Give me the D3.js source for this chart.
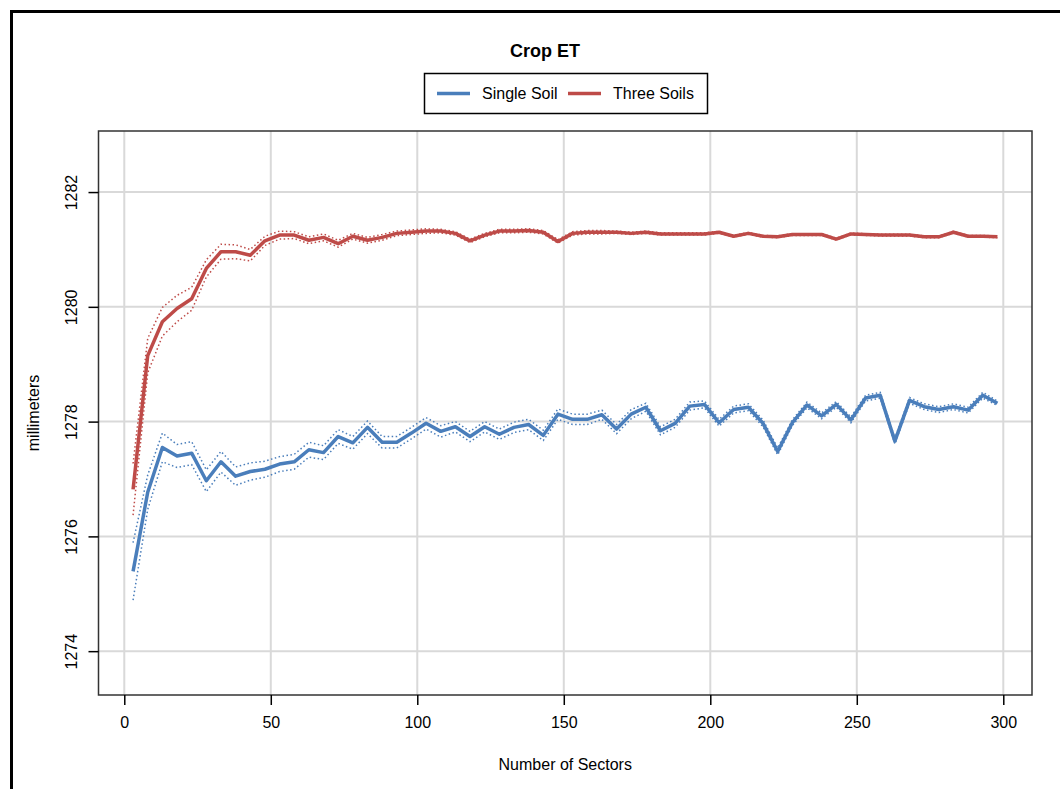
<!DOCTYPE html>
<html>
<head>
<meta charset="utf-8">
<script src="https://cdn.jsdelivr.net/npm/d3@7"></script>
<style>
  body { margin: 0; background: #fff; }
  svg { display: block; }
  text { font-family: "Liberation Sans", Arial, Helvetica, sans-serif; fill: #000; }
</style>
</head>
<body>
<svg id="chart" width="1060" height="789"></svg>
<script>
// Number of sectors used in each run
const sectors = [3, 8, 13, 18, 23, 28, 33, 38, 43, 48, 53, 58, 63, 68, 73, 78, 83, 88, 93, 98,
  103, 108, 113, 118, 123, 128, 133, 138, 143, 148, 153, 158, 163, 168, 173, 178, 183, 188, 193, 198,
  203, 208, 213, 218, 223, 228, 233, 238, 243, 248, 253, 258, 263, 268, 273, 278, 283, 288, 293, 298];

// Mean crop ET (mm), single soil
const singleSoil = [1275.39, 1276.77, 1277.55, 1277.40, 1277.45, 1276.97, 1277.30, 1277.05, 1277.13, 1277.17,
  1277.26, 1277.30, 1277.51, 1277.46, 1277.74, 1277.63, 1277.90, 1277.64, 1277.64, 1277.80,
  1277.97, 1277.83, 1277.91, 1277.74, 1277.91, 1277.78, 1277.90, 1277.95, 1277.76, 1278.13,
  1278.04, 1278.04, 1278.12, 1277.87, 1278.13, 1278.25, 1277.84, 1277.97, 1278.27, 1278.30,
  1277.98, 1278.21, 1278.25, 1277.97, 1277.48, 1277.98, 1278.29, 1278.10, 1278.30, 1278.03,
  1278.41, 1278.46, 1277.66, 1278.37, 1278.26, 1278.21, 1278.26, 1278.20, 1278.46, 1278.32];

// Mean crop ET (mm), three soils
const threeSoils = [1276.82, 1279.15, 1279.74, 1279.97, 1280.14, 1280.67, 1280.96, 1280.96, 1280.90, 1281.15,
  1281.25, 1281.25, 1281.16, 1281.21, 1281.10, 1281.23, 1281.16, 1281.21, 1281.28, 1281.30,
  1281.32, 1281.32, 1281.28, 1281.15, 1281.25, 1281.32, 1281.32, 1281.33, 1281.30, 1281.14,
  1281.28, 1281.30, 1281.30, 1281.30, 1281.28, 1281.30, 1281.27, 1281.27, 1281.27, 1281.27,
  1281.30, 1281.23, 1281.28, 1281.23, 1281.22, 1281.26, 1281.26, 1281.26, 1281.18, 1281.27,
  1281.26, 1281.25, 1281.25, 1281.25, 1281.22, 1281.22, 1281.30, 1281.23, 1281.23, 1281.22];

// Half-width of the uncertainty band around each mean (mm)
const singleSoilSpread = [0.50, 0.30, 0.25, 0.20, 0.20, 0.19, 0.18, 0.16, 0.15, 0.14,
  0.13, 0.13, 0.13, 0.12, 0.12, 0.11, 0.11, 0.10, 0.10, 0.10,
  0.10, 0.10, 0.09, 0.09, 0.09, 0.09, 0.09, 0.09, 0.09, 0.09,
  0.09, 0.09, 0.08, 0.08, 0.08, 0.07, 0.07, 0.07, 0.07, 0.06,
  0.06, 0.06, 0.06, 0.06, 0.06, 0.05, 0.05, 0.05, 0.05, 0.05,
  0.05, 0.05, 0.05, 0.05, 0.05, 0.05, 0.05, 0.05, 0.05, 0.04];

const threeSoilsSpread = [0.45, 0.30, 0.25, 0.23, 0.20, 0.15, 0.13, 0.12, 0.10, 0.08,
  0.07, 0.06, 0.06, 0.06, 0.06, 0.05, 0.05, 0.05, 0.04, 0.04,
  0.04, 0.03, 0.03, 0.03, 0.03, 0.03, 0.03, 0.03, 0.03, 0.03,
  0.03, 0.03, 0.03, 0.02, 0.02, 0.02, 0.02, 0.02, 0.02, 0.02,
  0.015, 0.015, 0.015, 0.015, 0.015, 0.015, 0.015, 0.015, 0.015, 0.015,
  0.015, 0.015, 0.015, 0.015, 0.015, 0.015, 0.015, 0.015, 0.015, 0.015];

const xTicks = [0, 50, 100, 150, 200, 250, 300];
const yTicks = [1274, 1276, 1278, 1280, 1282];
const seriesNames = ["Single Soil", "Three Soils"];
const seriesColors = ["#4A7EBB", "#BE4B48"];

const svg = d3.select("#chart");
const W = 1060, H = 789;
const plot = { left: 98.5, right: 1032, top: 131, bottom: 695 };

svg.append("rect").attr("width", W).attr("height", H).attr("fill", "#fff");

// outer figure frame (runs off the right and bottom edges)
svg.append("rect")
  .attr("x", 11.5).attr("y", 11.5).attr("width", W + 20).attr("height", H + 20)
  .attr("fill", "none").attr("stroke", "#000").attr("stroke-width", 3);

// R-style 4% padded ranges
const xExt = d3.extent(sectors);
const xPad = (xExt[1] - xExt[0]) * 0.04;
const x = d3.scaleLinear().domain([xExt[0] - xPad, xExt[1] + xPad]).range([plot.left, plot.right]);
const yLim = [1273.6, 1282.7];
const yPad = (yLim[1] - yLim[0]) * 0.04;
const y = d3.scaleLinear().domain([yLim[0] - yPad, yLim[1] + yPad]).range([plot.bottom, plot.top]);

// grid
const grid = svg.append("g").attr("stroke", "#d9d9d9").attr("stroke-width", 2);
grid.selectAll("line.v").data(xTicks).join("line").attr("class", "v")
  .attr("x1", d => x(d)).attr("x2", d => x(d)).attr("y1", plot.top).attr("y2", plot.bottom);
grid.selectAll("line.h").data(yTicks).join("line").attr("class", "h")
  .attr("y1", d => y(d)).attr("y2", d => y(d)).attr("x1", plot.left).attr("x2", plot.right);

// series: dotted band edges plus the thick mean line
const series = [
  { name: seriesNames[0], color: seriesColors[0], mean: singleSoil, spread: singleSoilSpread },
  { name: seriesNames[1], color: seriesColors[1], mean: threeSoils, spread: threeSoilsSpread }
];
const line = d3.line().x(d => x(d[0])).y(d => y(d[1]));
const lines = svg.append("g").attr("fill", "none");
series.forEach(s => {
  const mid = sectors.map((n, i) => [n, s.mean[i]]);
  const hi = sectors.map((n, i) => [n, s.mean[i] + s.spread[i]]);
  const lo = sectors.map((n, i) => [n, s.mean[i] - s.spread[i]]);
  [hi, lo].forEach(b => lines.append("path").attr("d", line(b))
    .attr("stroke", s.color).attr("stroke-width", 1.5).attr("stroke-dasharray", "1.5,2.5"));
  lines.append("path").attr("d", line(mid))
    .attr("stroke", s.color).attr("stroke-width", 3.5).attr("stroke-linejoin", "round");
});

// plot box
svg.append("rect")
  .attr("x", plot.left).attr("y", plot.top)
  .attr("width", plot.right - plot.left).attr("height", plot.bottom - plot.top)
  .attr("fill", "none").attr("stroke", "#333").attr("stroke-width", 1.5);

// x axis
const xAxis = svg.append("g").attr("transform", `translate(0,${plot.bottom})`)
  .call(d3.axisBottom(x).tickValues(xTicks).tickSize(10).tickPadding(11.5).tickFormat(d3.format("d")));
xAxis.select(".domain").remove();
xAxis.selectAll("line").attr("stroke", "#000").attr("stroke-width", 1.5);
xAxis.selectAll("text").attr("font-size", 16).attr("fill", "#000")
  .style("font-family", "'Liberation Sans', Arial, sans-serif");

// y axis, labels rotated parallel to the axis
const yAxis = svg.append("g").attr("transform", `translate(${plot.left},0)`)
  .call(d3.axisLeft(y).tickValues(yTicks).tickSize(10).tickFormat(d3.format("d")));
yAxis.select(".domain").remove();
yAxis.selectAll("line").attr("stroke", "#000").attr("stroke-width", 1.5);
yAxis.selectAll("text")
  .attr("x", null).attr("dy", null)
  .attr("transform", "translate(-21.5,0) rotate(-90)")
  .attr("text-anchor", "middle").attr("font-size", 16).attr("fill", "#000")
  .style("font-family", "'Liberation Sans', Arial, sans-serif");

// titles
svg.append("text").attr("x", 545).attr("y", 56.5).attr("text-anchor", "middle")
  .attr("font-size", 18).attr("font-weight", "bold").text("Crop ET");
svg.append("text").attr("x", (plot.left + plot.right) / 2).attr("y", 770).attr("text-anchor", "middle")
  .attr("font-size", 16).text("Number of Sectors");
svg.append("text").attr("transform", `translate(39,${(plot.top + plot.bottom) / 2}) rotate(-90)`)
  .attr("text-anchor", "middle").attr("font-size", 16).text("millimeters");

// legend
const legend = svg.append("g");
legend.append("rect").attr("x", 424.5).attr("y", 73.5).attr("width", 283).attr("height", 40)
  .attr("fill", "#fff").attr("stroke", "#000").attr("stroke-width", 1.5);
const legendX = [437, 568];
series.forEach((s, i) => {
  legend.append("line").attr("x1", legendX[i]).attr("x2", legendX[i] + 33)
    .attr("y1", 93.5).attr("y2", 93.5).attr("stroke", s.color).attr("stroke-width", 3.5);
  legend.append("text").attr("x", legendX[i] + 45).attr("y", 99.2)
    .attr("font-size", 16).text(s.name);
});
</script>
</body>
</html>
